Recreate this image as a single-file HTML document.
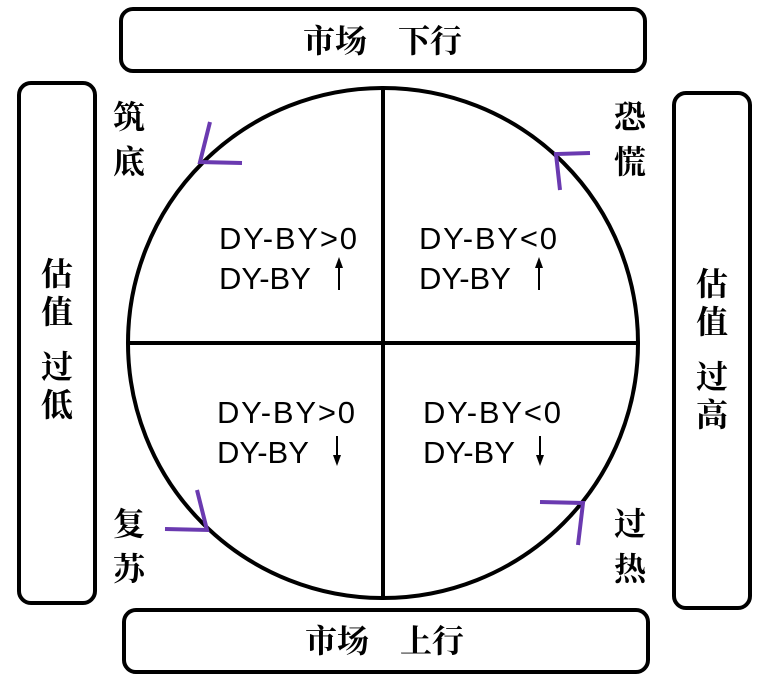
<!DOCTYPE html>
<html><head><meta charset="utf-8"><style>
html,body{margin:0;padding:0;background:#fff;width:762px;height:678px;overflow:hidden}
</style></head><body>
<svg width="762" height="678" xmlns="http://www.w3.org/2000/svg">
<rect width="762" height="678" fill="#fff"/>
<g fill="none" stroke="#000" stroke-width="4">
<rect x="121" y="9" width="524" height="62" rx="12"/>
<rect x="124" y="610" width="524" height="62" rx="12"/>
<rect x="19" y="83" width="76" height="520" rx="12"/>
<rect x="674" y="93" width="76" height="515" rx="12"/>
<circle cx="383" cy="343" r="255"/>
<line x1="383" y1="88" x2="383" y2="598"/>
<line x1="128" y1="343" x2="638" y2="343"/>
</g>
<g fill="none" stroke="#6a3ab0" stroke-width="4" stroke-linecap="butt">
<polyline points="210,122 200,162 242,163"/>
<polyline points="590,153 556,154 560,190"/>
<polyline points="197,490 207,530 165,529"/>
<polyline points="540,502 583,503 578,545"/>
</g>
<g font-family="'Noto Serif CJK SC','Noto Sans CJK SC',serif" font-size="32" font-weight="bold" fill="#000" text-anchor="middle">
<text x="335" y="52">市场</text><text x="430" y="52">下行</text>
<text x="337" y="652">市场</text><text x="432" y="652">上行</text>
<text x="57" y="285">估</text><text x="57" y="323">值</text>
<text x="57" y="378">过</text><text x="57" y="416">低</text>
<text x="712" y="295">估</text><text x="712" y="333">值</text>
<text x="712" y="388">过</text><text x="712" y="426">高</text>
<text x="129" y="128">筑</text><text x="129" y="173">底</text>
<text x="630" y="128">恐</text><text x="630" y="173">慌</text>
<text x="129" y="535">复</text><text x="129" y="580">苏</text>
<text x="630" y="535">过</text><text x="630" y="580">热</text>
</g>
<g font-family="'Liberation Sans',sans-serif" font-size="31" fill="#000">
<text x="219" y="249" textLength="138">DY-BY&gt;0</text><text x="219" y="289">DY-BY</text>
<text x="419" y="249" textLength="138">DY-BY&lt;0</text><text x="419" y="289">DY-BY</text>
<text x="217" y="423" textLength="138">DY-BY&gt;0</text><text x="217" y="463">DY-BY</text>
<text x="423" y="423" textLength="138">DY-BY&lt;0</text><text x="423" y="463">DY-BY</text>
</g>
<g stroke="#000" stroke-width="2" fill="#000">
<line x1="339" y1="262" x2="339" y2="290"/><polygon points="335,268 343,268 339,257" stroke="none"/>
<line x1="539" y1="262" x2="539" y2="290"/><polygon points="535,268 543,268 539,257" stroke="none"/>
<line x1="337" y1="436" x2="337" y2="462"/><polygon points="333,455 341,455 337,466" stroke="none"/>
<line x1="540" y1="436" x2="540" y2="462"/><polygon points="536,455 544,455 540,466" stroke="none"/>
</g>
</svg>
</body></html>
